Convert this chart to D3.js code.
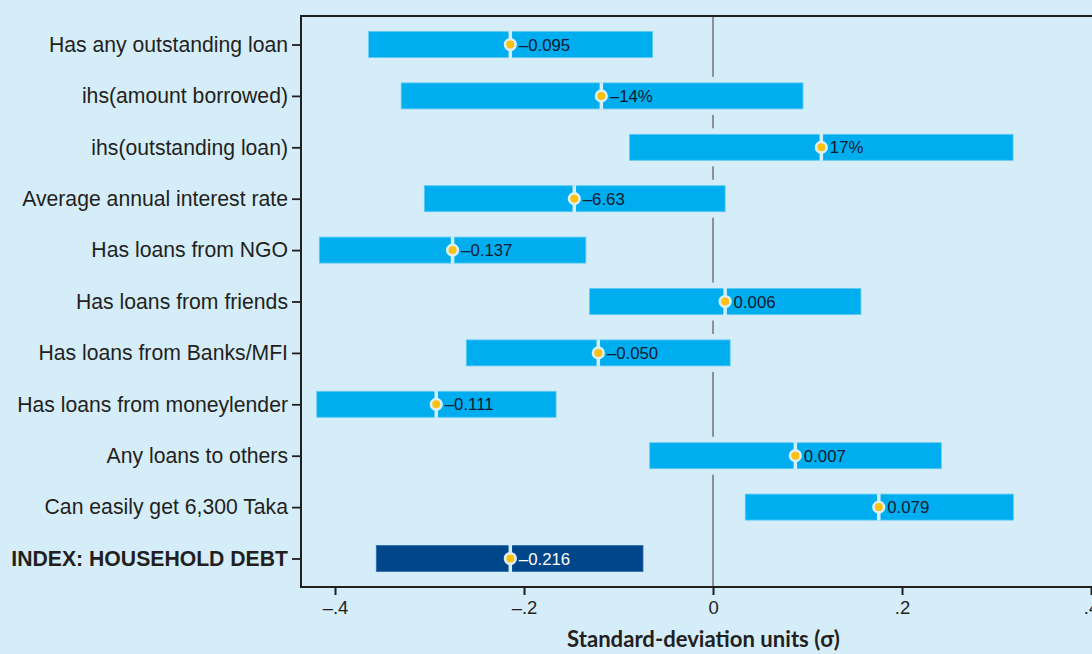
<!DOCTYPE html>
<html>
<head>
<meta charset="utf-8">
<script src="https://cdn.jsdelivr.net/npm/d3@7"></script>
<style>
  html, body { margin: 0; padding: 0; background: #d5edf9; }
  svg { display: block; }
</style>
</head>
<body>
<svg id="chart" width="1092" height="654"></svg>
<script>
// Outcomes (top to bottom)
const categories = [
  "Has any outstanding loan",
  "ihs(amount borrowed)",
  "ihs(outstanding loan)",
  "Average annual interest rate",
  "Has loans from NGO",
  "Has loans from friends",
  "Has loans from Banks/MFI",
  "Has loans from moneylender",
  "Any loans to others",
  "Can easily get 6,300 Taka",
  "INDEX: HOUSEHOLD DEBT"
];
// Standardized effect (σ) and confidence interval bounds
const effect = [-0.2145, -0.1182, 0.1146, -0.1468, -0.2756, 0.0128, -0.1214, -0.2929, 0.0871, 0.1754, -0.2145];
const ciLow  = [-0.3644, -0.3300, -0.0883, -0.3055, -0.4166, -0.1306, -0.2611, -0.4193, -0.0670, 0.0341, -0.3563];
const ciHigh = [-0.0639, 0.0952, 0.3175, 0.0128, -0.1346, 0.1565, 0.0181, -0.1661, 0.2416, 0.3178, -0.0741];
// Point estimates in the outcome's own units
const effectLabels = ["\u20130.095", "\u201314%", "17%", "\u20136.63", "\u20130.137", "0.006", "\u20130.050", "\u20130.111", "0.007", "0.079", "\u20130.216"];
// x-axis ticks
const xTicks = [-0.4, -0.2, 0, 0.2, 0.4];
const xTickLabels = ["\u2013.4", "\u2013.2", "0", ".2", ".4"];

const BG = "#d5edf9";
const BAR = "#00aeef";
const BAR_INDEX = "#00468b";
const DOT = "#fcc00f";

const svg = d3.select("#chart");
const plotLeft = 301, plotTop = 16, plotBottom = 587;

const x = d3.scaleLinear().domain([-0.436, 0.45]).range([plotLeft, plotLeft + 945 * 0.886]);
const y = d3.scalePoint().domain(categories).range([44.5, 558.5]);
const barH = 26;

svg.append("rect").attr("width", 1092).attr("height", 654).attr("fill", BG);

// zero reference line
svg.append("line")
  .attr("x1", x(0)).attr("x2", x(0))
  .attr("y1", plotTop).attr("y2", plotBottom)
  .attr("stroke", "#8c9094").attr("stroke-width", 2);

const rows = categories.map((c, i) => ({
  cat: c, est: effect[i], lo: ciLow[i], hi: ciHigh[i], label: effectLabels[i],
  index: i === categories.length - 1
}));

const g = svg.append("g");

// halo behind each bar so the zero line breaks around it
g.selectAll("rect.halo").data(rows).join("rect")
  .attr("class", "halo")
  .attr("x", d => x(d.lo) - 2)
  .attr("width", d => x(d.hi) - x(d.lo) + 4)
  .attr("y", d => y(d.cat) - barH / 2 - 6)
  .attr("height", barH + 12)
  .attr("fill", BG);

// confidence interval bars
g.selectAll("rect.bar").data(rows).join("rect")
  .attr("class", "bar")
  .attr("x", d => x(d.lo))
  .attr("width", d => x(d.hi) - x(d.lo))
  .attr("y", d => y(d.cat) - barH / 2)
  .attr("height", barH)
  .attr("fill", d => d.index ? BAR_INDEX : BAR)
  .attr("stroke", d => d.index ? "#2a6fb0" : "#5fcaf3")
  .attr("stroke-width", 0.8);

// divider through the estimate
g.selectAll("line.cut").data(rows).join("line")
  .attr("class", "cut")
  .attr("x1", d => x(d.est)).attr("x2", d => x(d.est))
  .attr("y1", d => y(d.cat) - barH / 2 - 0.5)
  .attr("y2", d => y(d.cat) + barH / 2 + 0.5)
  .attr("stroke", BG).attr("stroke-width", 3.5);

// point estimate markers
g.selectAll("circle.dot").data(rows).join("circle")
  .attr("class", "dot")
  .attr("cx", d => x(d.est))
  .attr("cy", d => y(d.cat))
  .attr("r", 5.3)
  .attr("fill", DOT)
  .attr("stroke", "#dbeff9")
  .attr("stroke-width", 2.6);

// estimate labels
g.selectAll("text.val").data(rows).join("text")
  .attr("class", "val")
  .attr("x", d => x(d.est) + 8.5)
  .attr("y", d => y(d.cat))
  .attr("dy", "0.36em")
  .attr("font-family", "Liberation Sans, Arial, sans-serif")
  .attr("font-size", 16.8)
  .attr("fill", d => d.index ? "#ffffff" : "#10192e")
  .text(d => d.label);

// plot frame: top edge
svg.append("line")
  .attr("x1", plotLeft).attr("x2", 1092).attr("y1", plotTop).attr("y2", plotTop)
  .attr("stroke", "#231f20").attr("stroke-width", 2);

// y axis
const yAxis = svg.append("g")
  .attr("transform", `translate(${plotLeft},0)`)
  .call(d3.axisLeft(y).tickSize(9).tickPadding(4));
yAxis.select(".domain").attr("stroke", "#231f20").attr("stroke-width", 2)
  .attr("d", `M0,${plotTop - 1}V${plotBottom + 1}`);
yAxis.selectAll(".tick line").attr("stroke", "#231f20").attr("stroke-width", 1.8);
yAxis.selectAll(".tick text")
  .attr("font-family", "Liberation Sans, Arial, sans-serif")
  .attr("font-size", 21.2)
  .attr("fill", "#231f20")
  .attr("font-weight", d => d === categories[categories.length - 1] ? "bold" : "normal");

// x axis
const xAxis = svg.append("g")
  .attr("transform", `translate(0,${plotBottom})`)
  .call(d3.axisBottom(x).tickValues(xTicks).tickFormat((d, i) => xTickLabels[i]).tickSize(8).tickPadding(6));
xAxis.select(".domain").attr("stroke", "#231f20").attr("stroke-width", 2)
  .attr("d", `M${plotLeft - 1},0H1092`);
xAxis.selectAll(".tick line").attr("stroke", "#231f20").attr("stroke-width", 2);
xAxis.selectAll(".tick text")
  .attr("font-family", "Liberation Sans, Arial, sans-serif")
  .attr("font-size", 18.5)
  .attr("fill", "#231f20");

// axis title
const title = svg.append("text")
  .attr("x", 703.5).attr("y", 647)
  .attr("text-anchor", "middle")
  .attr("font-family", "Lato, 'Open Sans', sans-serif")
  .attr("font-weight", "bold")
  .attr("font-size", 19)
  .attr("fill", "#231f20")
  .text("Standard-deviation units (\u03c3)");
const tw = title.node().getComputedTextLength();
title.attr("font-size", 19 * 273 / tw);
</script>
</body>
</html>
